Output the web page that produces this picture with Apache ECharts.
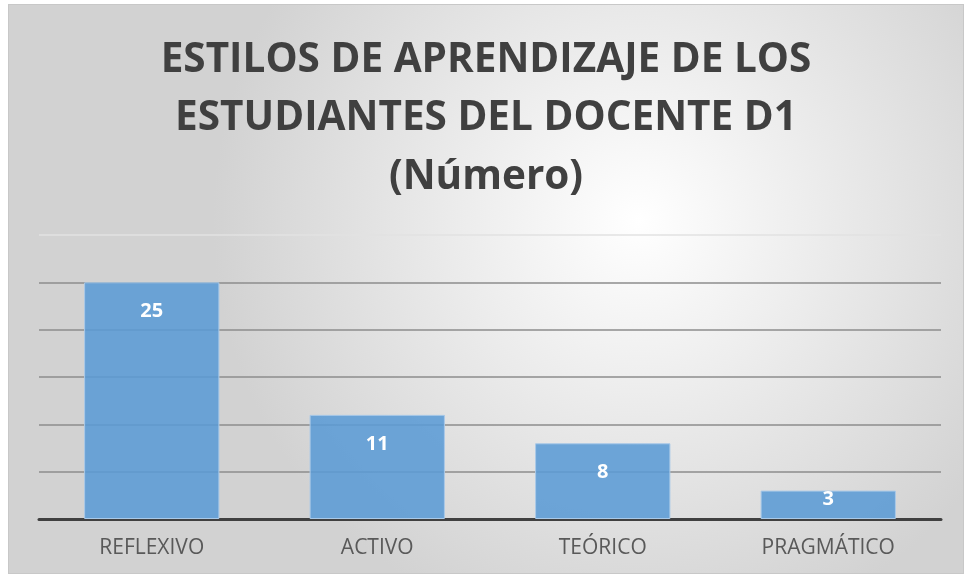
<!DOCTYPE html>
<html>
<head>
<meta charset="utf-8">
<script src="https://cdn.jsdelivr.net/npm/echarts@6/dist/echarts.min.js"></script>
<style>
  html, body { margin: 0; padding: 0; background: #ffffff; }
  #chart { position: absolute; left: 8px; top: 4px; width: 956px; height: 570px; border: 1px solid #c8c8c8; box-sizing: border-box; }
</style>
</head>
<body>
<div id="chart"></div>
<script>
var myChart = echarts.init(document.getElementById('chart'));

// datos
var categorias = ['REFLEXIVO', 'ACTIVO', 'TEÓRICO', 'PRAGMÁTICO'];
var valores = [25, 11, 8, 3];
var titulo = 'ESTILOS DE APRENDIZAJE DE LOS\nESTUDIANTES DEL DOCENTE D1\n(Número)';

// barras muy bajas: la etiqueta se sale un poco por arriba, como en Excel
var datos = valores.map(function (v) {
    if (v < 5) {
        return { value: v, label: { position: 'top', distance: -19 } };
    }
    return v;
});

var option = {
    backgroundColor: {
        type: 'radial', x: 0.66, y: 0.38, r: 0.75,
        colorStops: [
            {offset: 0, color: '#ffffff'},
            {offset: 1, color: '#d2d2d2'}
        ]
    },
    title: {
        text: titulo,
        left: 'center',
        top: 21,
        textStyle: {
            fontFamily: 'Open Sans',
            fontWeight: 'bold',
            fontSize: 40.5,
            lineHeight: 58.5,
            color: '#404040'
        }
    },
    grid: {
        left: 30,
        width: 902,
        top: 230,
        height: 284
    },
    xAxis: {
        type: 'category',
        data: categorias,
        axisLine: { lineStyle: { color: '#404040', width: 3 } },
        axisTick: { show: false },
        axisLabel: {
            fontFamily: 'Open Sans',
            fontSize: 21,
            color: '#595959',
            margin: 19
        }
    },
    yAxis: {
        type: 'value',
        min: 0,
        max: 30,
        interval: 5,
        axisLabel: { show: false },
        axisLine: { show: false },
        axisTick: { show: false },
        splitLine: {
            lineStyle: {
                color: ['#8c8c8c', '#8c8c8c', '#8c8c8c', '#8c8c8c', '#8c8c8c', '#8c8c8c', '#e2e2e2'],
                width: 1.5
            }
        }
    },
    series: [
        {
            name: 'Número',
            type: 'bar',
            data: datos,
            barCategoryGap: '40%',
            itemStyle: {
                color: 'rgba(91,155,213,0.88)',
                borderColor: '#a9c9e8',
                borderWidth: 1
            },
            label: {
                show: true,
                position: 'insideTop',
                distance: 19,
                color: '#ffffff',
                fontFamily: 'Open Sans',
                fontWeight: 'bold',
                fontSize: 20
            }
        }
    ]
};

myChart.setOption(option);
</script>
</body>
</html>
